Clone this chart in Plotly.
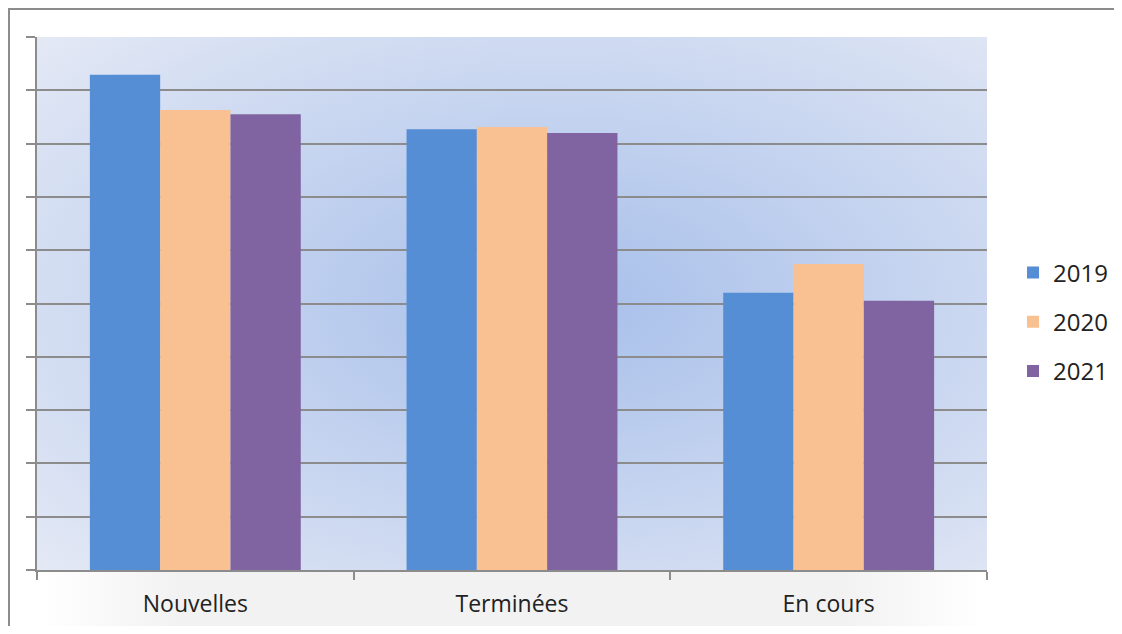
import base64
import plotly.graph_objects as go

categories = ["Nouvelles", "Terminées", "En cours"]
series_names = ["2019", "2020", "2021"]
values_2019 = [9.29, 8.27, 5.20]
values_2020 = [8.63, 8.31, 5.74]
values_2021 = [8.55, 8.20, 5.05]
series_values = [values_2019, values_2020, values_2021]
colors = ["#558ed5", "#f9c091", "#8064a2"]

fig = go.Figure()
for i, (name, vals, col) in enumerate(zip(series_names, series_values, colors)):
    fig.add_trace(go.Bar(x=categories, y=vals, name=name, marker_color=col,
                         marker_line_width=0, legendgroup=name))

def svg_uri(svg):
    return "data:image/svg+xml;base64," + base64.b64encode(svg.encode()).decode()

bg_svg = ('<svg xmlns="http://www.w3.org/2000/svg" width="950" height="533" viewBox="0 0 950 533" preserveAspectRatio="none">'
          '<defs><radialGradient id="g" cx="0.55" cy="0.5" r="0.75" gradientUnits="objectBoundingBox">'
          '<stop offset="0" stop-color="#a7bfea"/><stop offset="1" stop-color="#e4e9f5"/></radialGradient></defs>'
          '<rect width="950" height="533" fill="url(#g)"/></svg>')
shadow_svg = ('<svg xmlns="http://www.w3.org/2000/svg" width="950" height="70" viewBox="0 0 950 70" preserveAspectRatio="none">'
              '<defs><linearGradient id="h" x1="0" y1="0" x2="1" y2="0">'
              '<stop offset="0" stop-color="#ffffff"/><stop offset="0.15" stop-color="#f2f2f2"/>'
              '<stop offset="0.85" stop-color="#f2f2f2"/><stop offset="1" stop-color="#ffffff"/></linearGradient></defs>'
              '<rect width="950" height="70" fill="url(#h)"/></svg>')

fig.update_layout(
    width=1106, height=618,
    margin=dict(l=29, r=127, t=29, b=56),
    paper_bgcolor="white",
    plot_bgcolor="rgba(0,0,0,0)",
    barmode="group", bargap=0.334, bargroupgap=0,
    font=dict(family="Open Sans, Liberation Sans, sans-serif", size=23, color="#222222"),
    showlegend=True,
    legend=dict(xref="container", yref="container", x=0.9087, y=0.4919,
                xanchor="left", yanchor="middle",
                font=dict(size=24), tracegroupgap=15, bgcolor="rgba(0,0,0,0)"),
    images=[
        dict(source=svg_uri(bg_svg), xref="paper", yref="paper", x=0, y=1,
             sizex=1, sizey=1, xanchor="left", yanchor="top", sizing="stretch", layer="below"),
        dict(source=svg_uri(shadow_svg), xref="paper", yref="paper", x=0, y=0,
             sizex=1.0, sizey=0.125, xanchor="left", yanchor="top", sizing="stretch", layer="below"),
    ],
    shapes=[
        dict(type="rect", xref="paper", yref="paper", x0=-0.0295, y0=-0.3, x1=1.3, y1=1.0525,
             line=dict(color="#8c8c8c", width=2), fillcolor="rgba(0,0,0,0)", layer="below"),
    ],
)
fig.update_xaxes(showline=True, linecolor="#8c8c8c", linewidth=2, ticks="outside",
                 tickson="boundaries", ticklen=8, tickcolor="#8c8c8c", tickwidth=2,
                 showgrid=False, tickfont=dict(size=23), ticklabelstandoff=12,
                 automargin=False)
fig.update_yaxes(range=[0, 10], dtick=1, showline=True, linecolor="#8c8c8c", linewidth=2,
                 ticks="outside", ticklen=9, tickcolor="#8c8c8c", tickwidth=2,
                 showgrid=True, gridcolor="#8c8c8c", gridwidth=2, showticklabels=False,
                 zeroline=False, automargin=False)

fig.write_html("out.html")
